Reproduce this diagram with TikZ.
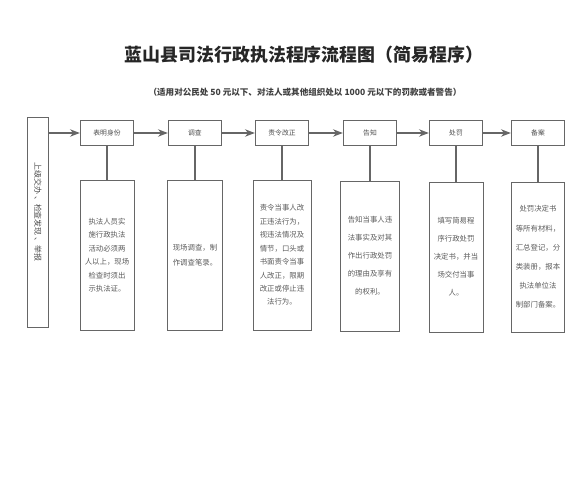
\documentclass[tikz,border=0pt]{standalone}
\usepackage{fontspec}
\setmainfont{Noto Sans CJK SC}
\usetikzlibrary{arrows.meta,positioning,calc}

\begin{document}
\begin{tikzpicture}[>=Stealth,x=0.03cm,y=-0.03cm,
    stepbox/.style={draw=black!60,line width=0.8pt,minimum width=1.6cm,minimum height=0.76cm,
        inner sep=0pt,text=black!70,font=\fontsize{5.8}{7}\selectfont},
    notebox/.style={draw=black!60,line width=0.75pt,minimum width=1.62cm,minimum height=4.5cm,
        inner sep=0pt,align=center,text=black!65},
    link/.style={->,black!60,line width=1.2pt},
    stem/.style={black!60,line width=1pt}]
    \useasboundingbox (0,0) rectangle (574,480);

    % Heading
    \node[font=\fontsize{15.3}{18}\selectfont\bfseries,text=black!85] (title) at (304,55)
        {蓝山县司法行政执法程序流程图（简易程序）};
    \node[font=\fontsize{7.3}{9}\selectfont\bfseries,text=black!75] (subtitle) at (305,92)
        {（适用对公民处 50 元以下、对法人或其他组织处以 1000 元以下的罚款或者警告）};

    % Source of the case
    \node[draw=black!60,line width=0.75pt,minimum width=0.63cm,minimum height=6.3cm] (laiyuan) at (38,222) {};
    \node[rotate=-90,font=\fontsize{6.8}{8}\selectfont,text=black!70] (laiyuantxt) at (38,212)
        {上级交办 、检查发现 、举报};

    % Top row - steps
    \node[stepbox] (biaoming) at (107,133) {表明身份};
    \node[stepbox] (diaocha) at (195,133) {调查};
    \node[stepbox] (zeling) at (282,133) {责令改正};
    \node[stepbox] (gaozhi) at (370,133) {告知};
    \node[stepbox] (chufa) at (456,133) {处罚};
    \node[stepbox] (beian) at (538,133) {备案};

    \draw[link] (biaoming.west -| laiyuan.east) -- (biaoming.west);
    \draw[link] (biaoming) -- (diaocha);
    \draw[link] (diaocha) -- (zeling);
    \draw[link] (zeling) -- (gaozhi);
    \draw[link] (gaozhi) -- (chufa);
    \draw[link] (chufa) -- (beian);

    % Bottom row - what is done in each step
    \node[notebox,font=\fontsize{6.3}{11.5}\selectfont] (biaomingnote) at (107,255)
        {执法人员实\\施行政执法\\活动必须两\\人以上，现场\\检查时须出\\示执法证。};
    \node[notebox,minimum width=1.65cm,font=\fontsize{6.3}{12.8}\selectfont] (diaochanote) at (195,255)
        {现场调查，制\\作调查笔录。};
    \node[notebox,minimum width=1.74cm,font=\fontsize{6.3}{11.5}\selectfont] (zelingnote) at (282,255)
        {责令当事人改\\正违法行为，\\视违法情况及\\情节，口头或\\书面责令当事\\人改正，限期\\改正或停止违\\法行为。};
    \node[notebox,minimum width=1.77cm,font=\fontsize{6.3}{15.3}\selectfont] (gaozhinote) at (370,256)
        {告知当事人违\\法事实及对其\\作出行政处罚\\的理由及享有\\的权利。};
    \node[notebox,font=\fontsize{6.3}{15.3}\selectfont] (chufanote) at (456,257)
        {填写简易程\\序行政处罚\\决定书，并当\\场交付当事\\人。};
    \node[notebox,minimum width=1.6cm,font=\fontsize{6.3}{16.4}\selectfont] (beiannote) at (538,257)
        {处罚决定书\\等所有材料，\\汇总登记，分\\类装册，报本\\执法单位法\\制部门备案。};

    \draw[stem] (biaoming) -- (biaomingnote);
    \draw[stem] (diaocha) -- (diaochanote);
    \draw[stem] (zeling) -- (zelingnote);
    \draw[stem] (gaozhi) -- (gaozhinote);
    \draw[stem] (chufa) -- (chufanote);
    \draw[stem] (beian) -- (beiannote);
\end{tikzpicture}
\end{document}
